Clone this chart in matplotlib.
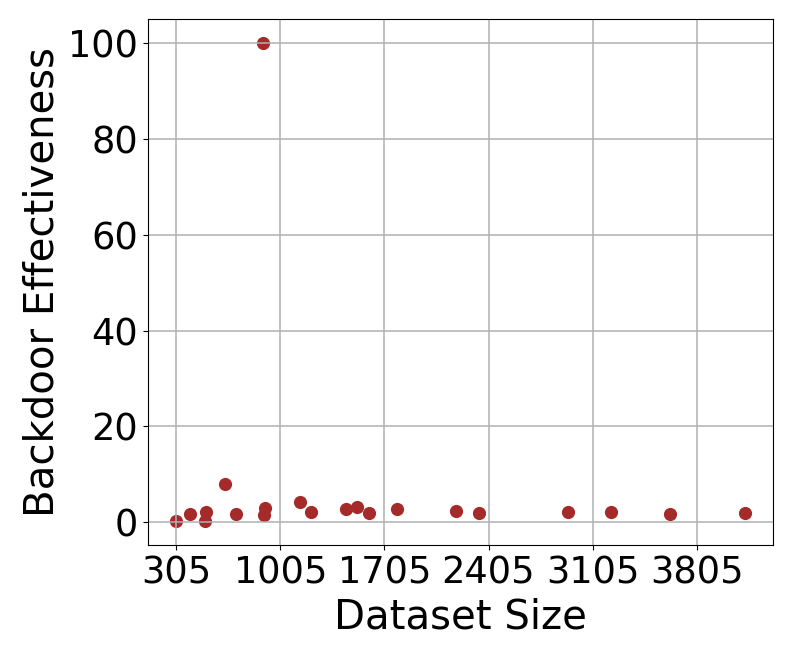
import matplotlib
matplotlib.use("Agg")
import matplotlib.pyplot as plt
import numpy as np

dataset_size = [305, 399, 507, 500, 635, 704, 899, 895, 888, 1140, 1209, 1443, 1521,
                1604, 1786, 2187, 2340, 2937, 3226, 3623, 4128]
effectiveness = [0.27, 1.73, 2.2, 0.35, 8.1, 1.73, 3.1, 1.5, 100.0, 4.2, 2.1, 2.8, 3.2,
                 1.94, 2.8, 2.4, 2.0, 2.15, 2.1, 1.8, 2.0]
xtick_values = [305, 1005, 1705, 2405, 3105, 3805]
ytick_values = [0, 20, 40, 60, 80, 100]

fig = plt.figure(figsize=(7.93, 6.61), dpi=100)
ax = fig.add_axes([0.1866, 0.1755, 0.9748 - 0.1866, 0.9713 - 0.1755])
ax.scatter(dataset_size, effectiveness, s=90, color="brown", linewidths=0)
ax.set_xticks(xtick_values)
ax.set_xticklabels([str(v) for v in xtick_values])
ax.set_yticks(ytick_values)
ax.tick_params(labelsize=26.5)
ax.set_xlabel("Dataset Size", fontsize=29)
ax.set_ylabel("Backdoor Effectiveness", fontsize=29)
ax.grid(True, linewidth=1.1)
fig.savefig("out.png", dpi=100)
